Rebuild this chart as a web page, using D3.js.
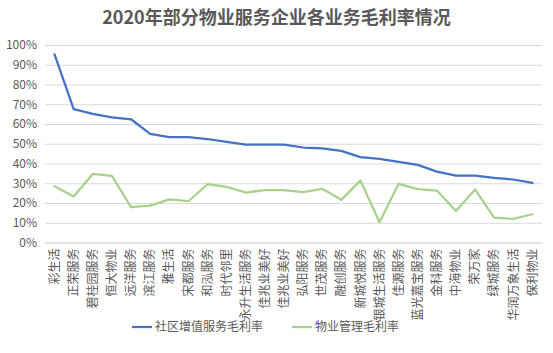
<!DOCTYPE html>
<html>
<head>
<meta charset="utf-8">
<script src="https://cdn.jsdelivr.net/npm/d3@7"></script>
<style>
  body { margin: 0; background: #fff; }
  svg { display: block; font-family: "Noto Sans CJK SC", "Noto Sans", sans-serif; }
</style>
</head>
<body>
<svg id="chart" width="553" height="353"></svg>
<script>
// categories (two 佳兆业美好 columns appear in the source)
const companies = ["彩生活", "正荣服务", "碧桂园服务", "恒大物业", "远洋服务", "滨江服务", "雅生活", "宋都服务",
  "和泓服务", "时代邻里", "永升生活服务", "佳兆业美好", "佳兆业美好", "弘阳服务", "世茂服务", "融创服务",
  "新城悦服务", "银城生活服务", "佳源服务", "蓝光嘉宝服务", "金科服务", "中海物业", "荣万家", "绿城服务",
  "华润万象生活", "保利物业"];

// 社区增值服务毛利率 (%)
const valueAdded = [95.3, 67.5, 65.1, 63.4, 62.4, 55.0, 53.3, 53.3, 52.4, 50.9, 49.6, 49.6, 49.6,
  48.1, 47.6, 46.4, 43.2, 42.3, 40.8, 39.3, 35.9, 33.9, 33.9, 32.7, 31.9, 30.2];

// 物业管理毛利率 (%)
const propertyMgmt = [28.5, 23.3, 34.7, 33.7, 17.9, 18.7, 21.8, 20.9, 29.5, 28.2, 25.3, 26.5, 26.5,
  25.5, 27.2, 21.6, 31.4, 10.3, 29.7, 27.0, 26.3, 16.0, 26.8, 12.6, 12.0, 14.3];

const yTicks = [0, 10, 20, 30, 40, 50, 60, 70, 80, 90, 100];
const seriesNames = ["社区增值服务毛利率", "物业管理毛利率"];
const seriesColors = ["#4472C4", "#A9D18E"];

const svg = d3.select("#chart");
const margin = { top: 45, left: 45, right: 11, bottom: 110.5 };
const W = 553, H = 353;

const x = d3.scaleBand()
  .domain(d3.range(companies.length))
  .range([margin.left, W - margin.right]);

const y = d3.scaleLinear()
  .domain([0, 100])
  .range([H - margin.bottom, margin.top]);

// title
svg.append("text")
  .attr("x", W / 2)
  .attr("y", 24)
  .attr("text-anchor", "middle")
  .attr("font-size", 18)
  .attr("font-weight", 700)
  .attr("fill", "#595959")
  .text("2020年部分物业服务企业各业务毛利率情况");

// gridlines + y labels
const yAxis = svg.append("g")
  .attr("transform", `translate(${margin.left},0)`)
  .call(d3.axisLeft(y).tickValues(yTicks).tickSize(-(W - margin.left - margin.right)).tickPadding(8).tickFormat(d => d + "%"));
yAxis.select(".domain").remove();
yAxis.selectAll("line").attr("stroke", "#d9d9d9");
yAxis.selectAll("text").attr("font-size", 12).attr("fill", "#595959").attr("font-family", "Noto Sans CJK SC, sans-serif");

// x labels (rotated)
const xAxis = svg.append("g")
  .attr("transform", `translate(0,${y(0)})`)
  .call(d3.axisBottom(x).tickSize(0).tickFormat(i => companies[i]));
xAxis.select(".domain").attr("stroke", "#d9d9d9");
xAxis.selectAll("text")
  .attr("font-size", 12)
  .attr("fill", "#595959")
  .attr("font-family", "Noto Sans CJK SC, sans-serif")
  .attr("text-anchor", "end")
  .attr("dy", "0.35em")
  .attr("transform", "translate(0,6) rotate(-90)")
  .attr("x", 0)
  .attr("y", 0);

// lines
const line = d3.line()
  .x((d, i) => x(i) + x.bandwidth() / 2)
  .y(d => y(d));

[valueAdded, propertyMgmt].forEach((s, k) => {
  svg.append("path")
    .datum(s)
    .attr("fill", "none")
    .attr("stroke", seriesColors[k])
    .attr("stroke-width", 2.25)
    .attr("stroke-linejoin", "round")
    .attr("stroke-linecap", "round")
    .attr("d", line);
});

// legend
const legendX = [132, 292];
seriesNames.forEach((name, k) => {
  const g = svg.append("g").attr("transform", `translate(${legendX[k]},327)`);
  g.append("line").attr("x1", 0).attr("x2", 20).attr("stroke", seriesColors[k]).attr("stroke-width", 2.25);
  g.append("text")
    .attr("x", 23)
    .attr("dy", "0.35em")
    .attr("font-size", 12)
    .attr("fill", "#595959")
    .text(name);
});
</script>
</body>
</html>
